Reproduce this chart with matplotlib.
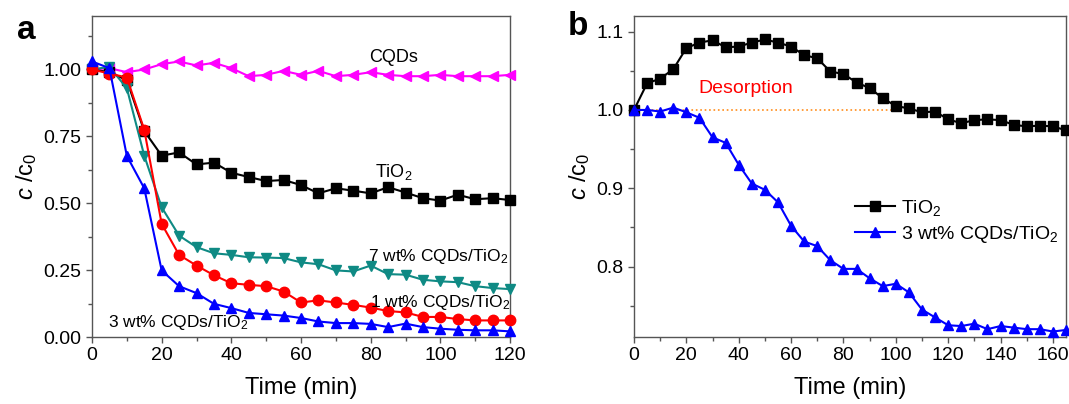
import numpy as np
import matplotlib
matplotlib.use("Agg")
import matplotlib.pyplot as plt

plt.rcParams['font.family'] = ['Liberation Sans', 'DejaVu Sans']
plt.rcParams['mathtext.fontset'] = 'custom'
plt.rcParams['mathtext.rm'] = 'Liberation Sans'
plt.rcParams['mathtext.it'] = 'Liberation Sans:italic'

#%% panel a data (every 5 min)
time_a = np.arange(0, 121, 5)
cqds = [1.00, 1.005, 0.99, 1.00, 1.02, 1.03, 1.015, 1.025, 1.005, 0.975, 0.98, 0.995, 0.98,
        0.995, 0.975, 0.98, 0.99, 0.98, 0.975, 0.975, 0.98, 0.975, 0.975, 0.975, 0.98]
tio2_a = [1.00, 0.99, 0.96, 0.77, 0.678, 0.69, 0.645, 0.652, 0.614, 0.598, 0.583, 0.587, 0.568,
          0.537, 0.556, 0.547, 0.537, 0.56, 0.54, 0.519, 0.51, 0.532, 0.515, 0.519, 0.512]
wt1 = [1.00, 0.985, 0.97, 0.775, 0.423, 0.307, 0.267, 0.231, 0.201, 0.195, 0.19, 0.17, 0.129,
       0.137, 0.129, 0.12, 0.11, 0.097, 0.092, 0.075, 0.075, 0.067, 0.062, 0.062, 0.062]
wt7 = [1.00, 1.01, 0.93, 0.678, 0.485, 0.379, 0.336, 0.313, 0.307, 0.298, 0.297, 0.295, 0.279,
       0.272, 0.249, 0.245, 0.267, 0.235, 0.233, 0.214, 0.208, 0.205, 0.19, 0.183, 0.179]
wt3_a = [1.03, 1.005, 0.677, 0.556, 0.249, 0.19, 0.164, 0.124, 0.108, 0.09, 0.085, 0.08, 0.071,
         0.058, 0.052, 0.052, 0.049, 0.037, 0.05, 0.037, 0.031, 0.027, 0.025, 0.025, 0.021]

#%% panel b data (every 5 min)
time_b = np.arange(0, 166, 5)
tio2_b = [1.00, 1.034, 1.04, 1.052, 1.079, 1.086, 1.089, 1.08, 1.081, 1.086, 1.09, 1.086, 1.081,
          1.07, 1.066, 1.049, 1.046, 1.035, 1.028, 1.015, 1.005, 1.002, 0.997, 0.998, 0.988,
          0.983, 0.987, 0.988, 0.987, 0.981, 0.979, 0.98, 0.979, 0.974]
wt3_b = [1.00, 1.00, 0.998, 1.003, 0.997, 0.99, 0.965, 0.958, 0.93, 0.906, 0.898, 0.882, 0.852,
         0.832, 0.826, 0.808, 0.797, 0.797, 0.785, 0.775, 0.778, 0.767, 0.745, 0.735, 0.725,
         0.724, 0.727, 0.72, 0.724, 0.722, 0.72, 0.72, 0.717, 0.719]

teal = "#0f8a84"
spine = "#555555"
ms = 7.5

fig = plt.figure(figsize=(10.69, 4.04), dpi=100)
axa = fig.add_axes([92/1069, 1-337/404, 418/1069, 321/404])
axb = fig.add_axes([634/1069, 1-337/404, 432/1069, 321/404])

def style(ax):
    for s in ax.spines.values():
        s.set_color(spine)
        s.set_linewidth(1.0)
    ax.tick_params(which='both', direction='out', colors=spine, labelcolor='black',
                   labelsize=14, width=1.0)
    ax.tick_params(which='major', length=4)
    ax.tick_params(which='minor', length=3)
    ax.set_xlabel("Time (min)", fontsize=17, labelpad=9)
    ax.set_ylabel(r"$c$ /c$_0$", fontsize=17, labelpad=3)

#%% panel a
axa.plot(time_a, cqds, '-<', color='#ff00ff', ms=ms, lw=1.5, clip_on=False, zorder=3)
axa.plot(time_a, tio2_a, '-s', color='black', ms=ms-0.5, lw=1.5, clip_on=False, zorder=3)
axa.plot(time_a, wt7, '-v', color=teal, ms=ms, lw=1.5, clip_on=False, zorder=3)
axa.plot(time_a, wt1, '-o', color='#ff0000', ms=ms, lw=1.5, clip_on=False, zorder=3)
axa.plot(time_a, wt3_a, '-^', color='#0000ff', ms=ms, lw=1.5, clip_on=False, zorder=3)
axa.set_xlim(0, 120)
axa.set_ylim(0, 1.2)
axa.set_xticks(np.arange(0, 121, 20))
axa.set_xticks(np.arange(0, 121, 10), minor=True)
axa.set_yticks([0, 0.25, 0.5, 0.75, 1.0])
axa.set_yticks(np.arange(0, 1.2, 0.125), minor=True)
axa.set_yticklabels(["0.00", "0.25", "0.50", "0.75", "1.00"])
style(axa)
axa.text(79.5, 1.045, "CQDs", fontsize=13, va='center')
axa.text(81.3, 0.616, "TiO$_2$", fontsize=13, va='center')
axa.text(79.2, 0.30, "7 wt% CQDs/TiO$_2$", fontsize=12.5, va='center')
axa.text(79.8, 0.13, "1 wt% CQDs/TiO$_2$", fontsize=12.5, va='center')
axa.text(4.6, 0.056, "3 wt% CQDs/TiO$_2$", fontsize=12.5, va='center')
fig.text(17/1069, 1-39/404, "a", fontsize=24, fontweight='bold')

#%% panel b
axb.plot([0, 101], [1.0, 1.0], ':', color='#ff8c1a', lw=1.2, zorder=2)
axb.plot(time_b, tio2_b, '-s', color='black', ms=ms-0.5, lw=1.5, clip_on=False, zorder=3,
         label="TiO$_2$")
axb.plot(time_b, wt3_b, '-^', color='#0000ff', ms=ms, lw=1.5, clip_on=False, zorder=3,
         label="3 wt% CQDs/TiO$_2$")
axb.set_xlim(0, 165)
axb.set_ylim(0.71, 1.12)
axb.set_xticks(np.arange(0, 161, 20))
axb.set_xticks(np.arange(0, 166, 10), minor=True)
axb.set_yticks([0.8, 0.9, 1.0, 1.1])
axb.set_yticks(np.arange(0.75, 1.12, 0.05), minor=True)
style(axb)
axb.text(24.4, 1.028, "Desorption", color='#ff0000', fontsize=14, va='center')
axb.legend(loc='center left', bbox_to_anchor=(0.47, 0.36), frameon=False, fontsize=14,
           handlelength=2.1, handletextpad=0.3, labelspacing=0.3)
fig.text(568/1069, 1-35/404, "b", fontsize=24, fontweight='bold')

fig.savefig("out.png", dpi=100)
